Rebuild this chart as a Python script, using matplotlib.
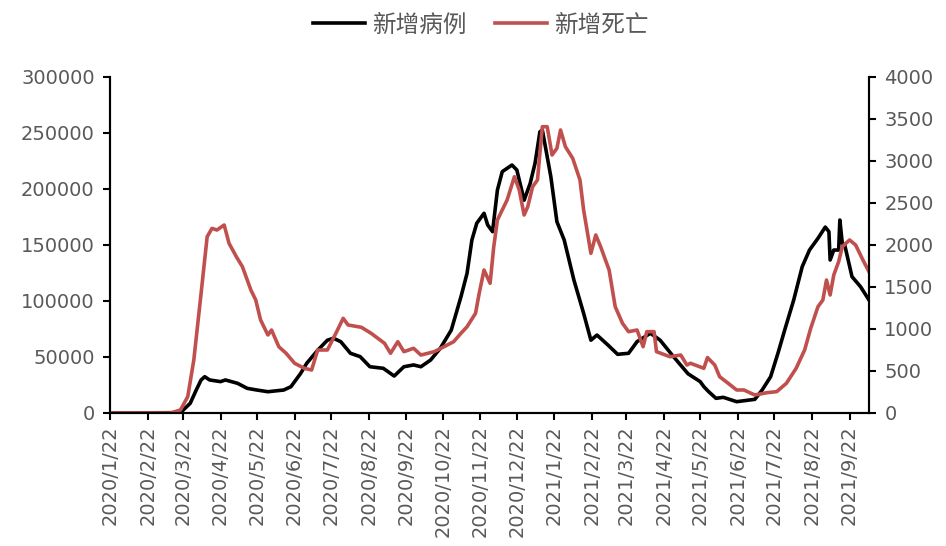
import matplotlib
matplotlib.use("Agg")
import matplotlib.pyplot as plt
import pandas as pd

plt.rcParams['font.family'] = ['DejaVu Sans', 'Noto Sans CJK SC']

# 7-day average of new cases
case_dates = ["2020-01-22", "2020-03-20", "2020-03-28", "2020-04-02", "2020-04-06", "2020-04-09",
              "2020-04-13", "2020-04-22", "2020-04-26", "2020-05-06", "2020-05-14", "2020-05-22",
              "2020-05-31", "2020-06-13", "2020-06-19", "2020-06-27", "2020-07-02", "2020-07-11",
              "2020-07-19", "2020-07-24", "2020-07-30", "2020-08-07", "2020-08-15", "2020-08-23",
              "2020-09-03", "2020-09-12", "2020-09-20", "2020-09-28", "2020-10-04", "2020-10-12",
              "2020-10-20", "2020-10-29", "2020-11-06", "2020-11-11", "2020-11-15", "2020-11-19",
              "2020-11-25", "2020-11-28", "2020-12-02", "2020-12-06", "2020-12-10", "2020-12-18",
              "2020-12-22", "2020-12-28", "2021-01-02", "2021-01-06", "2021-01-10", "2021-01-12",
              "2021-01-19", "2021-01-24", "2021-01-30", "2021-02-07", "2021-02-15", "2021-02-21",
              "2021-02-26", "2021-03-07", "2021-03-15", "2021-03-24", "2021-03-31", "2021-04-11",
              "2021-04-19", "2021-04-30", "2021-05-12", "2021-05-22", "2021-05-25", "2021-05-29",
              "2021-06-04", "2021-06-10", "2021-06-21", "2021-07-06", "2021-07-12", "2021-07-19",
              "2021-07-25", "2021-07-31", "2021-08-07", "2021-08-14", "2021-08-20", "2021-08-27",
              "2021-09-02", "2021-09-05", "2021-09-06", "2021-09-09", "2021-09-13", "2021-09-14",
              "2021-09-16", "2021-09-18", "2021-09-24", "2021-10-01", "2021-10-08"]
new_cases = [0, 300, 8600, 20500, 29500, 32400,
             29500, 28000, 29500, 26500, 22000, 20500,
             19000, 20500, 23500, 35400, 44400, 56000,
             65000, 66700, 63700, 53300, 50300, 41300,
             39900, 33000, 41300, 42900, 41300, 47300,
             57800, 74000, 103800, 124700, 154500, 169400,
             178300, 167900, 161900, 199000, 215500, 221400,
             217000, 190000, 205000, 223000, 251000, 252700,
             211000, 170800, 154500, 118700, 89000, 65000,
             69600, 60700, 52400, 53300, 63700, 71200,
             65000, 50300, 35000, 28000, 23500, 19000,
             13100, 14000, 10100, 12200, 20500, 32400,
             53300, 75600, 100900, 130600, 145500, 156000,
             166000, 161900, 136600, 145500, 145500, 172300,
             151500, 150000, 121700, 112800, 100900]

# 7-day average of new deaths
death_dates = ["2020-01-22", "2020-03-12", "2020-03-20", "2020-03-26", "2020-03-31", "2020-04-06",
               "2020-04-11", "2020-04-15", "2020-04-19", "2020-04-25", "2020-04-29", "2020-05-05",
               "2020-05-10", "2020-05-17", "2020-05-21", "2020-05-25", "2020-05-31", "2020-06-03",
               "2020-06-09", "2020-06-15", "2020-06-22", "2020-06-30", "2020-07-06", "2020-07-11",
               "2020-07-19", "2020-07-26", "2020-08-01", "2020-08-05", "2020-08-16", "2020-08-24",
               "2020-09-04", "2020-09-09", "2020-09-15", "2020-09-20", "2020-09-28", "2020-10-04",
               "2020-10-15", "2020-10-23", "2020-10-31", "2020-11-06", "2020-11-11", "2020-11-18",
               "2020-11-21", "2020-11-25", "2020-11-30", "2020-12-03", "2020-12-06", "2020-12-14",
               "2020-12-20", "2020-12-24", "2020-12-28", "2020-12-31", "2021-01-04", "2021-01-08",
               "2021-01-12", "2021-01-16", "2021-01-20", "2021-01-24", "2021-01-27", "2021-01-31",
               "2021-02-06", "2021-02-12", "2021-02-15", "2021-02-21", "2021-02-25", "2021-03-01",
               "2021-03-08", "2021-03-13", "2021-03-19", "2021-03-24", "2021-03-31", "2021-04-05",
               "2021-04-08", "2021-04-14", "2021-04-16", "2021-04-27", "2021-05-06", "2021-05-11",
               "2021-05-14", "2021-05-25", "2021-05-28", "2021-06-03", "2021-06-07", "2021-06-14",
               "2021-06-21", "2021-06-27", "2021-07-06", "2021-07-16", "2021-07-24", "2021-08-01",
               "2021-08-09", "2021-08-16", "2021-08-21", "2021-08-27", "2021-08-31", "2021-09-03",
               "2021-09-06", "2021-09-09", "2021-09-13", "2021-09-16", "2021-09-22", "2021-09-27",
               "2021-10-03", "2021-10-08"]
new_deaths = [0, 0, 36, 194, 631, 1425,
              2099, 2198, 2178, 2238, 2020, 1861,
              1742, 1464, 1345, 1107, 929, 988,
              789, 711, 592, 532, 512, 750,
              750, 949, 1127, 1048, 1020, 949,
              830, 711, 849, 730, 770, 690,
              730, 789, 849, 949, 1027, 1187,
              1425, 1702, 1544, 1980, 2298, 2536,
              2813, 2655, 2357, 2456, 2694, 2774,
              3408, 3408, 3071, 3151, 3369, 3170,
              3032, 2774, 2417, 1901, 2119, 1980,
              1702, 1266, 1068, 968, 988, 789,
              968, 968, 730, 670, 690, 571,
              592, 532, 660, 571, 432, 354,
              274, 274, 214, 242, 254, 354,
              532, 750, 1008, 1266, 1345, 1583,
              1405, 1643, 1801, 1980, 2060, 2000,
              1821, 1682]

legend_labels = ["新增病例", "新增死亡"]
tick_color = "#595959"
red = "#C0504D"

fig = plt.figure(figsize=(9.46, 5.46), dpi=100)
ax = fig.add_axes([0.1163, 0.2436, 0.8023, 0.6154])
ax2 = ax.twinx()

l1, = ax.plot(pd.to_datetime(case_dates), new_cases, color="black", lw=2.6)
l2, = ax2.plot(pd.to_datetime(death_dates), new_deaths, color=red, lw=2.6)

ax.set_xlim(pd.Timestamp("2020-01-22"), pd.Timestamp("2021-10-08"))
ax.set_ylim(0, 300000)
ax2.set_ylim(0, 4000)
ax.set_yticks(range(0, 300001, 50000))
ax2.set_yticks(range(0, 4001, 500))

# monthly ticks on the 22nd
ticks = pd.date_range("2020-01-01", "2021-09-01", freq="MS") + pd.Timedelta(days=21)
ax.set_xticks(ticks)
ax.set_xticklabels([f"{d.year}/{d.month}/{d.day}" for d in ticks], rotation=90)

for a in (ax, ax2):
    a.spines["top"].set_visible(False)
    for s in a.spines.values():
        s.set_linewidth(1.5)
        s.set_color("black")
    a.tick_params(direction="out", length=5, width=1.5, colors="black",
                  labelcolor=tick_color, labelsize=14)
ax.tick_params(axis="y", pad=6)
ax2.tick_params(axis="y", pad=6)
ax.tick_params(axis="x", pad=4)

fig.legend([l1, l2], legend_labels, loc="center", bbox_to_anchor=(0.508, 0.954),
           ncol=2, frameon=False, handlelength=2.2, handletextpad=0.3,
           columnspacing=1.2, labelcolor=tick_color,
           prop={"family": ["Noto Sans CJK SC"], "size": 17})

fig.savefig("out.png", dpi=100)
